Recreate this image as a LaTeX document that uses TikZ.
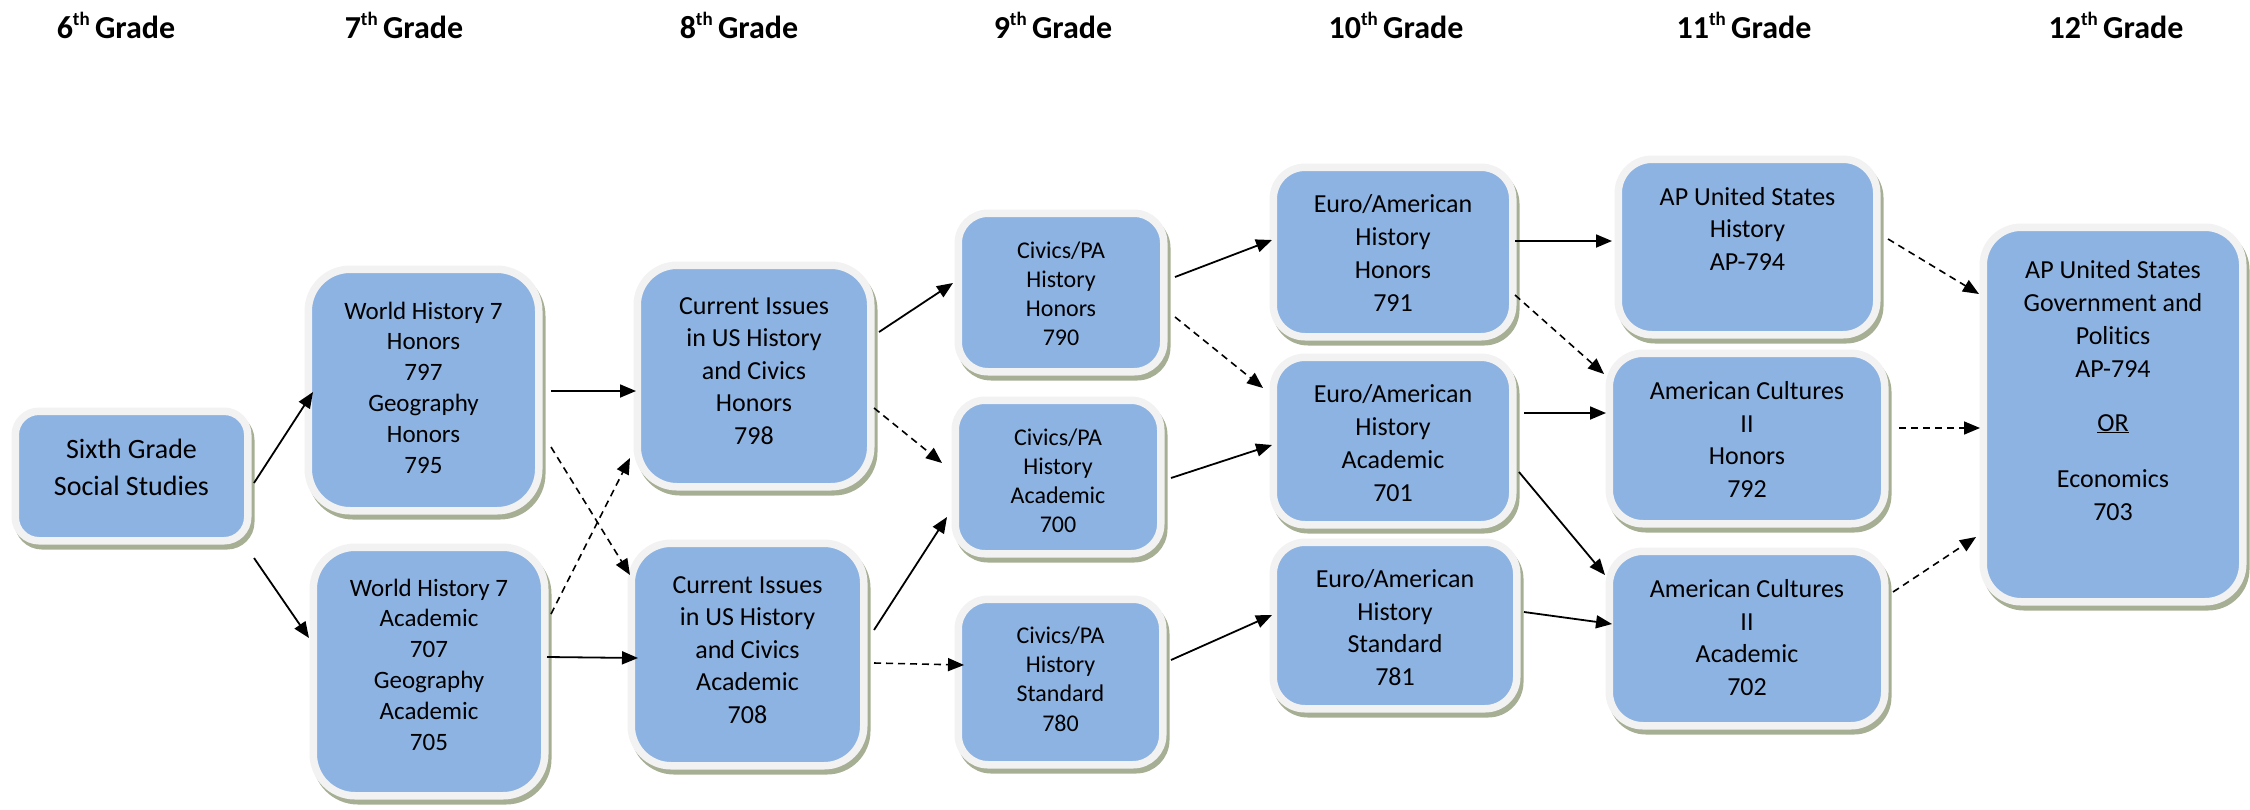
\documentclass[tikz,border=0pt]{standalone}
\usepackage{fontspec}
\setmainfont{Carlito}[Ligatures=NoCommon]
\usetikzlibrary{shadows,arrows.meta,calc}
\definecolor{boxblue}{RGB}{141,179,226}
\definecolor{boxrim}{RGB}{242,242,242}
\definecolor{boxshade}{RGB}{166,175,148}
\newcommand{\gradehd}[1]{#1\raisebox{13pt}{\fontsize{19}{19}\selectfont th}\,Grade}
\tikzset{
  cbox/.style={rectangle, draw=boxrim, line width=7.5pt, fill=boxblue, inner sep=0pt,
    rounded corners=#1,
    drop shadow={shadow xshift=3pt, shadow yshift=-5pt, opacity=1, fill=boxshade, draw=boxshade, line width=7.5pt}},
  ctext/.style={anchor=base, align=center, inner sep=0pt, font=\fontsize{26}{32.4}\selectfont},
  link/.style={line width=1.8pt, -{Triangle[length=16pt,width=13pt]}},
  dlink/.style={line width=1.6pt, dash pattern=on 7pt off 5pt, -{Triangle[length=16pt,width=13pt]}},
  grade/.style={anchor=base, inner sep=0pt, font=\fontsize{32}{38}\selectfont\bfseries},
}
\begin{document}
\begin{tikzpicture}[x=1pt,y=-1pt]
\useasboundingbox (0,0) rectangle (2250,809);
% headers
\node[grade] (g6) at (116,38) {\gradehd{6}};
\node[grade] (g7) at (404,38) {\gradehd{7}};
\node[grade] (g8) at (739,38) {\gradehd{8}};
\node[grade] (g9) at (1053,38) {\gradehd{9}};
\node[grade] (g10) at (1396,38) {\gradehd{10}};
\node[grade] (g11) at (1744,38) {\gradehd{11}};
\node[grade] (g12) at (2116,38) {\gradehd{12}};
% boxes
\node[cbox=23.75pt, minimum width=232.5pt, minimum height=129.5pt] (six) at (131.5,476) {};
\node[cbox=41.75pt, minimum width=230.5pt, minimum height=241.5pt] (wh7h) at (423.5,390) {};
\node[cbox=41.75pt, minimum width=231.5pt, minimum height=248.5pt] (wh7a) at (429,671.5) {};
\node[cbox=39.75pt, minimum width=233.5pt, minimum height=221.5pt] (cih) at (754,376) {};
\node[cbox=39.75pt, minimum width=232.5pt, minimum height=222.5pt] (cia) at (747.5,654.5) {};
\node[cbox=29.75pt, minimum width=205.5pt, minimum height=158.5pt] (civh) at (1061,292.5) {};
\node[cbox=29.75pt, minimum width=205.5pt, minimum height=153.5pt] (civa) at (1058,477) {};
\node[cbox=29.75pt, minimum width=204.5pt, minimum height=165.5pt] (civs) at (1060.5,682) {};
\node[cbox=31.75pt, minimum width=239.5pt, minimum height=169.5pt] (euroh) at (1393,252) {};
\node[cbox=31.75pt, minimum width=239.5pt, minimum height=167.5pt] (euroa) at (1393,441) {};
\node[cbox=31.75pt, minimum width=243.5pt, minimum height=166.5pt] (euros) at (1395,625.5) {};
\node[cbox=33.75pt, minimum width=258.5pt, minimum height=175.5pt] (apush) at (1747.5,247) {};
\node[cbox=33.75pt, minimum width=275.5pt, minimum height=170.5pt] (amch) at (1747,438.5) {};
\node[cbox=33.75pt, minimum width=275.5pt, minimum height=174.5pt] (amca) at (1747,638.5) {};
\node[cbox=37.75pt, minimum width=259.5pt, minimum height=374.5pt] (apgov) at (2113,414.5) {};
% texts (anchor at the baseline of the last line)
\node[ctext, font=\fontsize{28}{36.6}\selectfont] (six-t) at (131.5,495) {Sixth Grade\\Social Studies};
\node[ctext, font=\fontsize{25}{30.8}\selectfont] (wh7h-t) at (423.5,473) {World History 7\\Honors\\797\\Geography\\Honors\\795};
\node[ctext, font=\fontsize{25}{30.8}\selectfont] (wh7a-t) at (429,750) {World History 7\\Academic\\707\\Geography\\Academic\\705};
\node[ctext] (cih-t) at (754,444) {Current Issues\\in US History\\and Civics\\Honors\\798};
\node[ctext] (cia-t) at (747.5,723) {Current Issues\\in US History\\and Civics\\Academic\\708};
\node[ctext, font=\fontsize{24}{29}\selectfont] (civh-t) at (1061,345) {Civics/PA\\History\\Honors\\790};
\node[ctext, font=\fontsize{24}{29}\selectfont] (civa-t) at (1058,532) {Civics/PA\\History\\Academic\\700};
\node[ctext, font=\fontsize{24}{29.3}\selectfont] (civs-t) at (1060.5,731) {Civics/PA\\History\\Standard\\780};
\node[ctext, font=\fontsize{26}{32.7}\selectfont] (euroh-t) at (1393,311) {Euro/American\\History\\Honors\\791};
\node[ctext, font=\fontsize{26}{32.7}\selectfont] (euroa-t) at (1393,501) {Euro/American\\History\\Academic\\701};
\node[ctext] (euros-t) at (1395,685) {Euro/American\\History\\Standard\\781};
\node[ctext] (apush-t) at (1747.5,270) {AP United States\\History\\AP-794};
\node[ctext] (amch-t) at (1747,497) {American Cultures\\II\\Honors\\792};
\node[ctext] (amca-t) at (1747,695) {American Cultures\\II\\Academic\\702};
\node[ctext, font=\fontsize{26}{33}\selectfont] (apgov-t) at (2113,520) {AP United States\\Government and\\Politics\\AP-794\\[21pt]\underline{OR}\\[23pt]Economics\\703};
% connectors
\draw[link] ($(six.center)+(122.5,7)$) -- ($(wh7h.center)+(-110.5,2)$);
\draw[link] ($(six.center)+(122.5,82)$) -- ($(wh7a.center)+(-120,-33.5)$);
\draw[link] ($(wh7h.center)+(127.5,1)$) -- ($(cih.center)+(-118,15)$);
\draw[dlink] ($(wh7h.center)+(127.5,57)$) -- ($(cia.center)+(-117.5,-79.5)$);
\draw[dlink] ($(wh7a.center)+(122,-57.5)$) -- ($(cih.center)+(-124,82)$);
\draw[link] ($(wh7a.center)+(118,-14.5)$) -- ($(cia.center)+(-109.5,3.5)$);
\draw[link] ($(cih.center)+(125,-44)$) -- ($(civh.center)+(-108,-9.5)$);
\draw[dlink] ($(cih.center)+(120,32)$) -- ($(civa.center)+(-116,-14)$);
\draw[link] ($(cia.center)+(126.5,-24.5)$) -- ($(civa.center)+(-111,40)$);
\draw[dlink] ($(cia.center)+(126.5,8.5)$) -- ($(civs.center)+(-96.5,-17)$);
\draw[link] ($(civh.center)+(114,-15.5)$) -- ($(euroh.center)+(-121,-12)$);
\draw[dlink] ($(civh.center)+(114,24.5)$) -- ($(euroa.center)+(-130,-53)$);
\draw[link] ($(civa.center)+(113,1)$) -- ($(euroa.center)+(-121,4)$);
\draw[link] ($(civs.center)+(110.5,-22)$) -- ($(euros.center)+(-123,-10.5)$);
\draw[link] ($(euroh.center)+(122,-11)$) -- ($(apush.center)+(-135.5,-6)$);
\draw[dlink] ($(euroh.center)+(122,43)$) -- ($(amch.center)+(-143,-64.5)$);
\draw[link] ($(euroa.center)+(131,-28)$) -- ($(amch.center)+(-141,-25.5)$);
\draw[link] ($(euroa.center)+(126,31)$) -- ($(amca.center)+(-142,-63.5)$);
\draw[link] ($(euros.center)+(129,-13.5)$) -- ($(amca.center)+(-135,-14.5)$);
\draw[dlink] ($(apush.center)+(140.5,-8)$) -- ($(apgov.center)+(-134,-120.5)$);
\draw[dlink] ($(amch.center)+(152,-10.5)$) -- ($(apgov.center)+(-133,13.5)$);
\draw[dlink] ($(amca.center)+(146,-46.5)$) -- ($(apgov.center)+(-137,122.5)$);
\end{tikzpicture}
\end{document}
